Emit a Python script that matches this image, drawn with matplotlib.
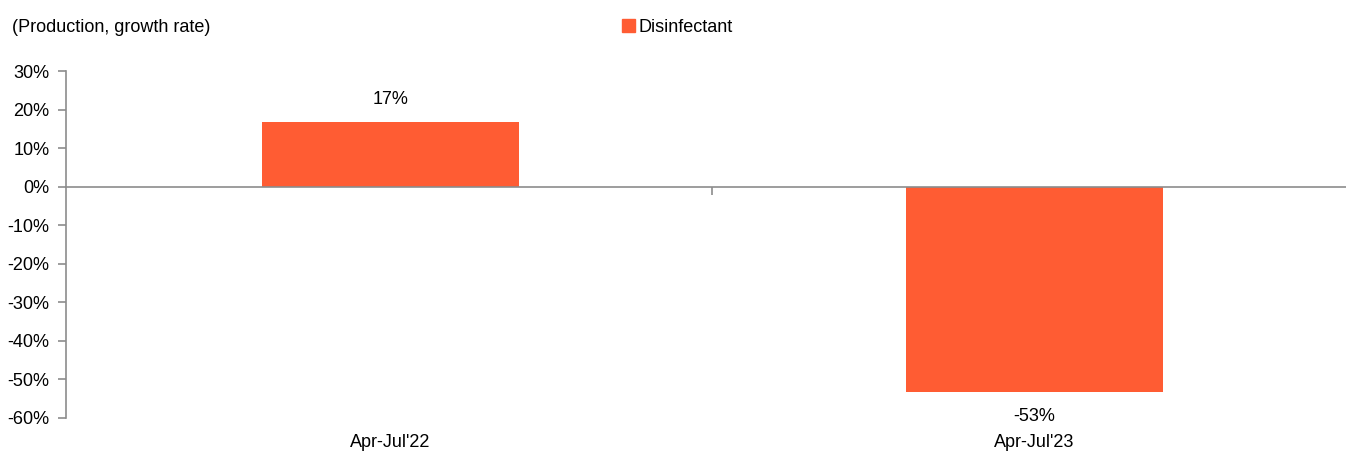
import matplotlib.pyplot as plt
import matplotlib.transforms as mtransforms
from matplotlib.patches import Patch
import numpy as np

plt.rcParams['font.family'] = ['Liberation Sans', 'DejaVu Sans']

######## Data ################################################################

categories = ["Apr-Jul'22", "Apr-Jul'23"]
growth = [16.7, -53.2]   # production growth, %
value_labels = ['17%', '-53%']
series_name = 'Disinfectant'

bar_color = '#FF5C33'
axis_grey = '#8C8C8C'

######## Plot ################################################################

fig = plt.figure(figsize=(13.46, 4.54), dpi=100)
ax = fig.add_axes([66/1346, 1 - 418/454, 1 - 66/1346, (418 - 71)/454])

x = np.arange(len(categories))
bars = ax.bar(x, growth, width=0.40, color=bar_color)

ax.set_xlim(-0.504, 1.484)
ax.set_ylim(-60, 30)
ax.set_yticks(np.arange(-60, 31, 10))
ax.set_yticklabels([f'{v}%' for v in range(-60, 31, 10)], fontsize=13)

# spines: left axis grey, x axis sits on the zero line
for s in ['top', 'right']:
    ax.spines[s].set_visible(False)
ax.spines['left'].set_color(axis_grey)
ax.spines['left'].set_linewidth(1.2)
ax.spines['bottom'].set_position(('data', 0))
ax.spines['bottom'].set_color(axis_grey)
ax.spines['bottom'].set_linewidth(1.2)
ax.tick_params(axis='y', length=6, color=axis_grey, width=1.2, pad=6)

# category boundary tick on the zero line, labels at the bottom
ax.set_xticks([0.5])
ax.set_xticklabels([''])
ax.tick_params(axis='x', length=6, color=axis_grey, width=1.2)
trans = mtransforms.blended_transform_factory(ax.transData, ax.transAxes)
for xi, cat in zip(x, categories):
    ax.text(xi, -0.045, cat, transform=trans, ha='center', va='top', fontsize=13)

# value labels
for rect, val, lab in zip(bars, growth, value_labels):
    cx = rect.get_x() + rect.get_width() / 2
    if val >= 0:
        ax.annotate(lab, (cx, val), xytext=(0, 10), textcoords='offset points',
                    ha='center', va='bottom', fontsize=13)
    else:
        ax.annotate(lab, (cx, val), xytext=(0, -12), textcoords='offset points',
                    ha='center', va='top', fontsize=13)

fig.text(12/1346, 1 - 27/454, '(Production, growth rate)', fontsize=13,
         ha='left', va='center')
fig.legend(handles=[Patch(color=bar_color, label=series_name)],
           loc='center left', bbox_to_anchor=(606/1346, 1 - 27/454),
           frameon=False, fontsize=13, handlelength=0.7, handleheight=0.7,
           handletextpad=0.2)

fig.savefig('out.png', dpi=100)
